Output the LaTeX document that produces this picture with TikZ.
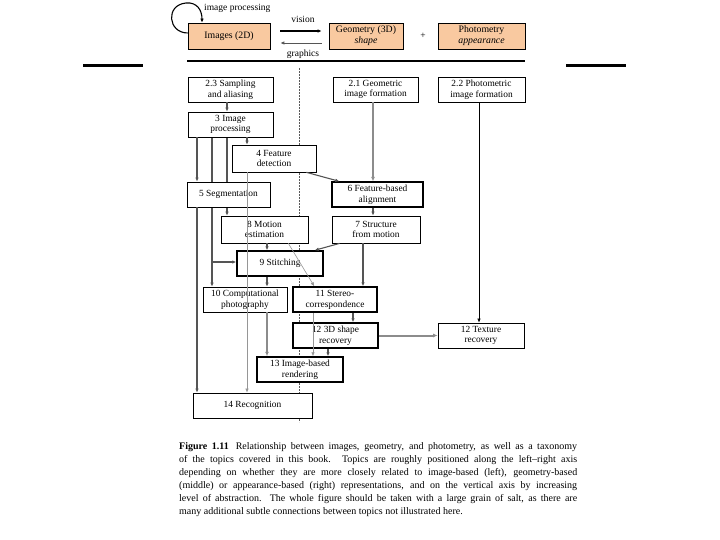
\documentclass[tikz,border=0pt]{standalone}
\usepackage{fontspec}
\setmainfont{Liberation Serif}
\usetikzlibrary{arrows.meta,calc}
\pgfdeclarelayer{bg}
\pgfsetlayers{bg,main}
\definecolor{orangefill}{RGB}{249,201,160}
\definecolor{conngray}{RGB}{85,85,85}
\definecolor{heavygray}{RGB}{140,140,140}
\definecolor{lightgray2}{RGB}{150,150,150}
\tikzset{
  box/.style={draw, fill=white, line width=0.8pt, align=center, inner sep=1pt,
    font=\fontsize{9.4}{10.8}\selectfont},
  thickbox/.style={box, line width=1.5pt},
  topbox/.style={draw, fill=orangefill, line width=0.6pt, align=center, inner sep=1pt,
    font=\fontsize{9.8}{10.8}\selectfont},
  tip/.style={-{Latex[length=4pt,width=3.5pt]}},
  conn/.style={draw=conngray, line width=1.1pt, tip},
  heavy/.style={draw=heavygray, line width=2pt, -{Latex[length=4.5pt,width=4pt]}},
  thinc/.style={draw=lightgray2, line width=0.6pt, tip},
  lbl/.style={font=\fontsize{9.5}{10}\selectfont, inner sep=1pt},
}
\begin{document}
\begin{tikzpicture}[x=1pt,y=-1pt]
\useasboundingbox (0,0) rectangle (720,540);

% lanes
\coordinate (x197) at (197,0);
\coordinate (x202) at (202,0);
\coordinate (x212) at (212,0);
\coordinate (x227) at (227,0);
\coordinate (x247) at (247,0);
\coordinate (x267) at (267,0);
\coordinate (x313) at (313,0);
\coordinate (x328) at (328,0);
\coordinate (x353) at (353,0);
\coordinate (x363) at (363,0);
\coordinate (x373) at (373,0);
\coordinate (x479) at (479,0);

% decorative bars
\fill (83,64) rectangle (143,67.5);
\fill (566,64) rectangle (626,67.5);

% top row
\node[topbox, minimum width=82, minimum height=26] (imgs) at (229,36) {Images (2D)};
\node[topbox, minimum width=74, minimum height=26] (geo) at (366,36) {Geometry (3D)\\\textit{shape}};
\node[topbox, minimum width=87, minimum height=26] (photo) at (481.5,36) {Photometry\\\textit{appearance}};
\node[lbl] (plus) at (423,36) {+};
\node[lbl] (vis) at (303,19) {vision};
\node[lbl] (gra) at (303,54) {graphics};
\node[lbl, anchor=west] (ip) at (203,8) {image processing};

\draw[black, line width=1.5pt, tip] ([xshift=10,yshift=5]imgs.east) -- ([xshift=-7,yshift=5]geo.west);
\draw[conngray, line width=0.9pt, tip] ([xshift=-7,yshift=-7]geo.west) -- ([xshift=10,yshift=-7]imgs.east);
\draw[black, line width=1.1pt, tip] ([yshift=3]imgs.west) .. controls (168,33) and (165,5) .. (186,3)
  .. controls (197,2) and (202,10) .. (imgs.north -| x202);

\draw[line width=2.2pt] (187,61) -- (525,61);

% dotted divider
\begin{pgfonlayer}{bg}
\draw[dash pattern=on 1.6pt off 1.4pt, line width=0.8pt, black!65] (299,68) -- (299,422);
\end{pgfonlayer}

% boxes
\node[box, minimum width=85, minimum height=25] (s23) at (230.5,89.5) {2.3 Sampling\\and aliasing};
\node[box, minimum width=85, minimum height=25] (s21) at (375.5,89.5) {2.1 Geometric\\image formation};
\node[box, minimum width=87, minimum height=25] (s22) at (481.5,89.5) {2.2 Photometric\\image formation};
\node[box, minimum width=85, minimum height=25] (s3) at (230.5,124.5) {3 Image\\processing};
\node[box, line width=0.6pt, minimum width=84, minimum height=27] (s4) at (274,158.5) {4 Feature\\detection};
\node[box, minimum width=83, minimum height=25] (s5) at (228.5,194.5) {5 Segmentation};
\node[box, minimum width=91, minimum height=25, line width=1.3pt] (s6) at (377.5,194.5) {6 Feature-based\\alignment};
\node[box, line width=0.6pt, minimum width=87, minimum height=27] (s8) at (264.5,229.5) {8 Motion\\estimation};
\node[box, minimum width=88, minimum height=27] (s7) at (376,229.5) {7 Structure\\from motion};
\node[thickbox, minimum width=86, minimum height=25] (s9) at (280,263.5) {9 Stitching};
\node[box, line width=0.6pt, minimum width=84, minimum height=25] (s10) at (245,299.5) {10 Computational\\photography};
\node[thickbox, minimum width=84, minimum height=25] (s11) at (335,299.5) {11 Stereo-\\correspondence};
\node[thickbox, minimum width=85, minimum height=25] (s12) at (335.5,335.5) {12 3D shape\\recovery};
\node[box, minimum width=86, minimum height=25] (s12t) at (481,335.5) {12 Texture\\recovery};
\node[thickbox, minimum width=86, minimum height=25] (s13) at (300,369.5) {13 Image-based\\rendering};
\node[box, minimum width=119, minimum height=25] (s14) at (252.5,405.5) {14 Recognition};

% connectors drawn behind boxes
\coordinate (br) at (212,262);
\begin{pgfonlayer}{bg}
\draw[conn] (s3.south -| x212) -- (s10.north -| x212);
\draw[conn] (s3.south -| x227) -- (s8.north -| x227);
\end{pgfonlayer}

\draw[conn] (s23.south -| x227) -- (s3.north -| x227);
\draw[conn] (s3.south -| x197) -- (s5.north -| x197);
\draw[conn] (s5.south -| x197) -- (s14.north -| x197);
\draw[conn] (br) -- (br -| s9.west);
\draw[conn] (s3.south -| x247) -- (s4.north -| x247);
\draw[conn] ([xshift=-10]s4.south east) -- ([xshift=8]s6.north west);
\draw[heavy] (s21.south -| x373) -- (s6.north -| x373);
\draw[conn] (s6.south -| x373) -- (s7.north -| x373);
\draw[black, line width=0.6pt, tip] (s22.south -| x479) -- (s12t.north -| x479);
\draw[conn] (s8.south -| x267) -- (s9.north -| x267);
\draw[thinc] ([xshift=-20]s8.south east) -- ([xshift=22]s11.north west);
\draw[conn] ([xshift=8]s7.south west) -- ([xshift=-9]s9.north east);
\draw[conn] (s7.south -| x363) -- (s11.north -| x363);
\draw[conn] (s9.south -| x267) -- (s10.north -| x267);
\draw[heavy] (s10.south -| x267) -- (s13.north -| x267);
\draw[conn] (s11.south -| x353) -- (s12.north -| x353);
\draw[thinc] (s11.south -| x313) -- (s13.north -| x313);
\draw[conn] (s12.south -| x328) -- (s13.north -| x328);
\draw[heavy] (s12.east) -- (s12t.west);
\draw[thinc] (s4.south -| x247) -- (s14.north -| x247);

% caption
\node[anchor=north west, text width=398pt, inner sep=0pt, align=justify,
  font=\fontsize{10}{13}\selectfont] (cap) at (179,442)
{\textbf{Figure 1.11}\hspace{0.7em}Relationship between images, geometry, and photometry, as well as a taxonomy\linebreak
of the topics covered in this book. Topics are roughly positioned along the left--right axis\linebreak
depending on whether they are more closely related to image-based (left), geometry-based\linebreak
(middle) or appearance-based (right) representations, and on the vertical axis by increasing\linebreak
level of abstraction. The whole figure should be taken with a large grain of salt, as there are\linebreak
many additional subtle connections between topics not illustrated here.};
\end{tikzpicture}
\end{document}
